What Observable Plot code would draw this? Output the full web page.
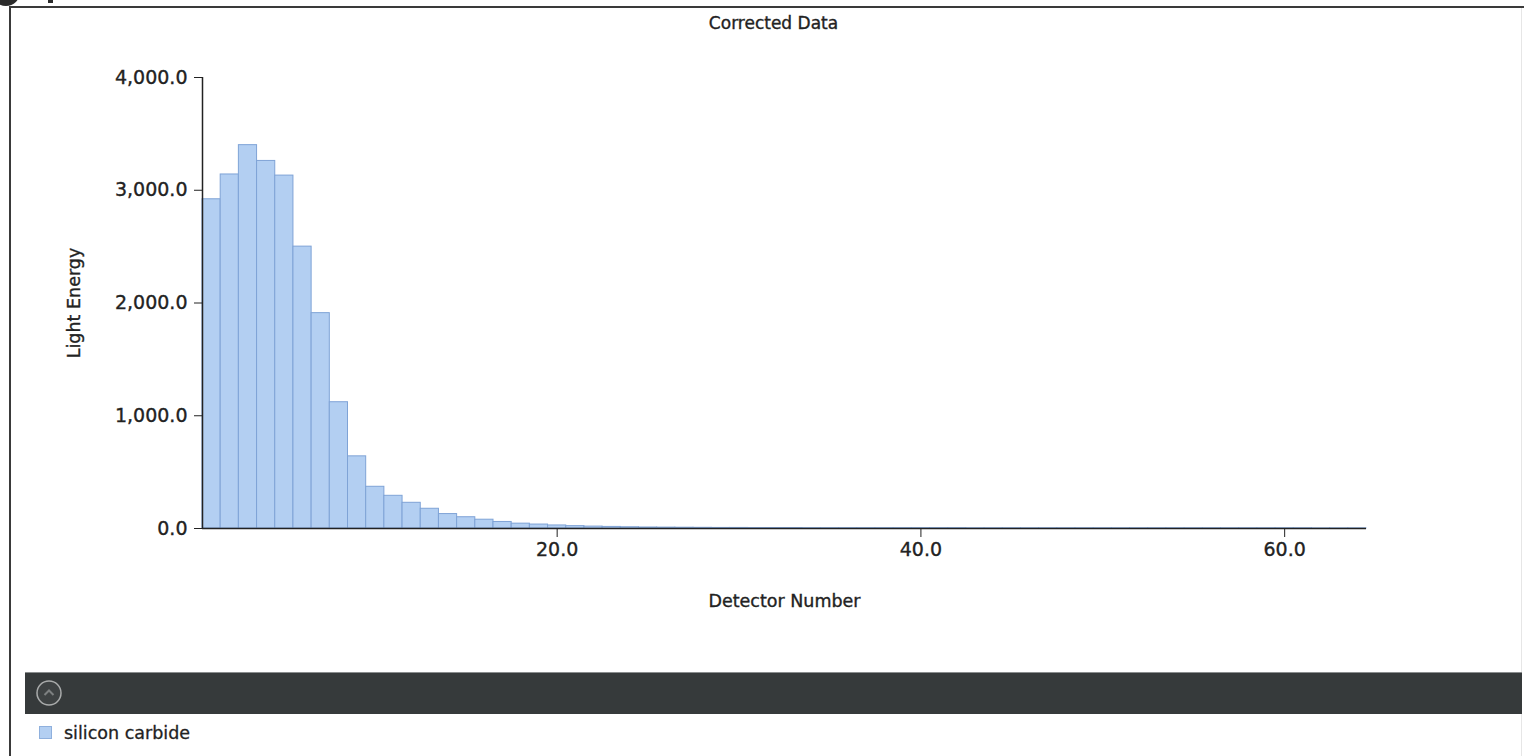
<!DOCTYPE html>
<html>
<head>
<meta charset="utf-8">
<script src="https://cdn.jsdelivr.net/npm/d3@7"></script>
<script src="https://cdn.jsdelivr.net/npm/@observablehq/plot@0.6"></script>
<style>
  html, body { margin: 0; padding: 0; background: #ffffff; width: 1524px; height: 756px; overflow: hidden; }
  body { position: relative; font-family: "DejaVu Sans", Verdana, sans-serif; color: #222; }
  .abs { position: absolute; }
  svg text { stroke: #222; stroke-width: 0.35px; paint-order: stroke; }
  .legend-text { -webkit-text-stroke: 0.3px #222; }
</style>
</head>
<body>
<script>
// ---- data ----
const chartTitle = "Corrected Data";
const xLabel = "Detector Number";
const yLabel = "Light Energy";
const seriesName = "silicon carbide";
const lightEnergy = [
  2920, 3140, 3400, 3260, 3130, 2500, 1910, 1120, 640, 370,
  290, 228, 175, 128, 100, 78, 58, 43, 35, 27,
  21, 17, 14, 11, 9, 8, 7, 6, 5, 5,
  4, 4, 4, 3, 3, 3, 3, 3, 3, 3,
  3, 3, 2, 2, 2, 2, 2, 2, 2, 2,
  2, 2, 2, 2, 2, 2, 2, 2, 2, 2,
  2, 1, 1, 1
];
const xTicks = [20, 40, 60];
const yTicks = [0, 1000, 2000, 3000, 4000];
const xDomain = [0.5, 64.5];
const yDomain = [0, 4000];

const barFill = "#b3cff2";
const barStroke = "#7fa3d6";
const ink = "#222222";

const rows = lightEnergy.map((v, i) => ({detector: i + 1, value: v}));

// ---- page furniture ----
function addDiv(style) {
  const d = document.createElement("div");
  d.className = "abs";
  Object.assign(d.style, style);
  document.body.appendChild(d);
  return d;
}
// cropped artefacts at very top-left
addDiv({left: "-8px", top: "-22px", width: "28px", height: "28px", borderRadius: "50%", background: "#2b2b2b"});
addDiv({left: "48px", top: "0px", width: "5px", height: "3px", background: "#2b2b2b"});
// panel frame
addDiv({left: "9px", top: "6px", width: "1515px", height: "760px", borderTop: "2px solid #3a3a3a", borderLeft: "2px solid #3a3a3a", boxSizing: "border-box"});
addDiv({left: "1521px", top: "8px", width: "1px", height: "748px", background: "#e6e6e6"});

// chart
const fmt = d3.format(",.1f");
const chart = Plot.plot({
  width: 1524,
  height: 620,
  marginLeft: 202,
  marginRight: 158,
  marginTop: 77,
  marginBottom: 92,
  style: {fontFamily: "'DejaVu Sans', Verdana, sans-serif", fontSize: "19px", color: ink, background: "transparent", overflow: "visible"},
  x: {domain: xDomain},
  y: {domain: yDomain},
  marks: [
    Plot.rectY(rows, {
      x1: d => d.detector - 0.5,
      x2: d => d.detector + 0.5,
      y: "value",
      fill: barFill,
      stroke: barStroke,
      strokeWidth: 1
    }),
    Plot.axisX({ticks: xTicks, tickFormat: fmt, tickSize: 9, tickPadding: 5, label: null, stroke: ink, fontSize: 19}),
    Plot.axisY({ticks: yTicks, tickFormat: fmt, tickSize: 8, tickPadding: 7, label: null, stroke: ink, fontSize: 19}),
    Plot.ruleY([yDomain[0]], {stroke: ink, strokeWidth: 1.5}),
    Plot.ruleX([xDomain[0]], {stroke: ink, strokeWidth: 1.5}),
    Plot.text([xLabel], {text: d => d, frameAnchor: "bottom", dy: 78, fontSize: 17.5, fill: ink}),
    Plot.text([yLabel], {text: d => d, frameAnchor: "left", textAnchor: "middle", dx: -128, rotate: -90, fontSize: 17.5, fill: ink}),
    Plot.text([chartTitle], {text: d => d, frameAnchor: "top", dx: -11, dy: -61, fontSize: 17, fill: ink})
  ]
});
const holder = addDiv({left: "0px", top: "0px"});
holder.appendChild(chart);

// dark collapsible strip
const strip = addDiv({left: "25px", top: "672px", width: "1497px", height: "42px", background: "#363a3b", borderTop: "1px solid #8a8d8e", boxSizing: "border-box"});
strip.innerHTML = '<svg width="40" height="42" style="position:absolute;left:0;top:0"><circle cx="24" cy="20" r="12" fill="#3e4243" stroke="#a9abab" stroke-width="1.5"/><path d="M19.5 22 L24 17.5 L28.5 22" fill="none" stroke="#7d8081" stroke-width="2"/></svg>';

// legend
addDiv({left: "39px", top: "726px", width: "13px", height: "13px", background: barFill, border: "1px solid #8fb0dd", boxSizing: "border-box"});
const lt = addDiv({left: "64px", top: "722px", fontSize: "17.5px", lineHeight: "22px", color: ink, fontFamily: "'DejaVu Sans', Verdana, sans-serif"});
lt.className = "abs legend-text";
lt.textContent = seriesName;
</script>
</body>
</html>
